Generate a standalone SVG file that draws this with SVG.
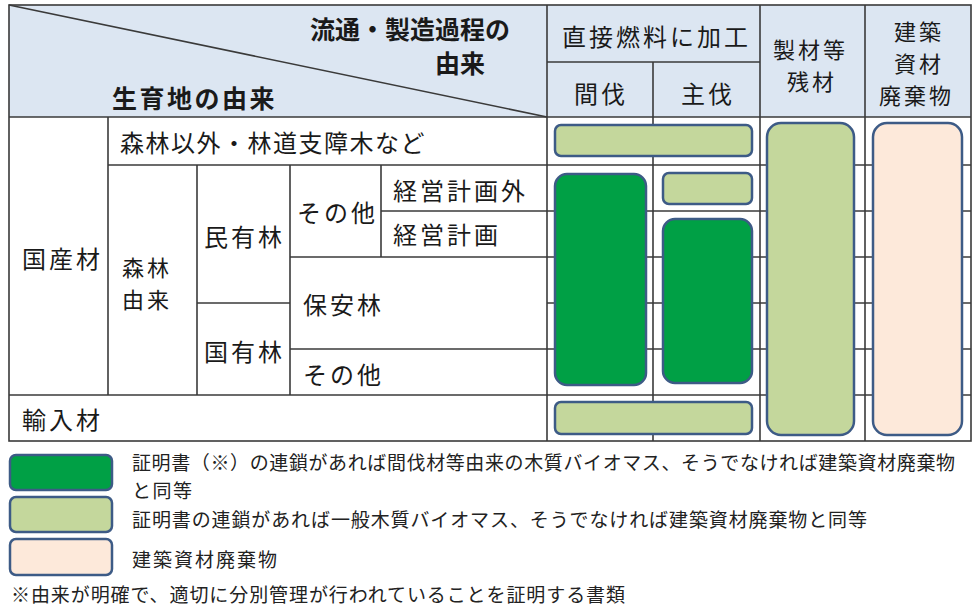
<svg xmlns="http://www.w3.org/2000/svg" width="980" height="616" viewBox="0 0 980 616">
<style>
.t{font-family:"Noto Sans CJK JP","Noto Sans",sans-serif;font-size:24px;fill:#1a1a1a;letter-spacing:3px;dominant-baseline:central}
.b{font-weight:bold;font-size:25px;letter-spacing:0}
.s{font-size:22px}
.l{font-family:"Noto Sans CJK JP","Noto Sans",sans-serif;font-size:19px;fill:#222;dominant-baseline:central}
.g{stroke:#3a3a3a;stroke-width:1.6;fill:none}
.dk{fill:#00a045;stroke:#3d5b86;stroke-width:2.5}
.lt{fill:#c4d79c;stroke:#3d5b86;stroke-width:2.5}
.pc{fill:#fde9da;stroke:#3d5b86;stroke-width:2.5}
</style>
<rect width="980" height="616" fill="#fff"/>
<g id="header-bg">
<rect x="9" y="5" width="962" height="112" fill="#dce6f2"/>
</g>
<g id="grid" class="g">
<rect x="9" y="5" width="962" height="436"/>
<line x1="9" y1="5" x2="547" y2="117"/>
<line x1="9" y1="117" x2="971" y2="117"/>
<line x1="547" y1="5" x2="547" y2="441"/>
<line x1="760" y1="5" x2="760" y2="441"/>
<line x1="865" y1="5" x2="865" y2="441"/>
<line x1="653" y1="62" x2="653" y2="441"/>
<line x1="547" y1="62" x2="760" y2="62"/>
<line x1="108" y1="117" x2="108" y2="395"/>
<line x1="197" y1="165" x2="197" y2="395"/>
<line x1="290" y1="165" x2="290" y2="395"/>
<line x1="381" y1="165" x2="381" y2="257"/>
<line x1="108" y1="165" x2="971" y2="165"/>
<line x1="381" y1="211" x2="971" y2="211"/>
<line x1="290" y1="257" x2="971" y2="257"/>
<line x1="197" y1="303" x2="290" y2="303"/>
<line x1="547" y1="303" x2="971" y2="303"/>
<line x1="290" y1="349" x2="971" y2="349"/>
<line x1="9" y1="395" x2="971" y2="395"/>
</g>
<g id="header-text">
<text class="t b" x="310" y="28">流通・製造過程の</text>
<text class="t b" x="435" y="62">由来</text>
<text class="t b" x="112" y="97" style="letter-spacing:2.5px">生育地の由来</text>
<text class="t" x="562" y="35">直接燃料に加工</text>
<text class="t" x="574" y="92">間伐</text>
<text class="t" x="681" y="92">主伐</text>
<text class="t s" x="773" y="48">製材等</text>
<text class="t s" x="787" y="80">残材</text>
<text class="t s" x="894" y="30">建築</text>
<text class="t s" x="894" y="62">資材</text>
<text class="t s" x="879" y="94">廃棄物</text>
</g>
<g id="row-text">
<text class="t" x="120" y="141" style="letter-spacing:1.5px">森林以外・林道支障木など</text>
<text class="t" x="22" y="257">国産材</text>
<text class="t s" x="122" y="266">森林</text>
<text class="t s" x="122" y="298">由来</text>
<text class="t" x="204" y="235">民有林</text>
<text class="t" x="297" y="211">その他</text>
<text class="t" x="393" y="189">経営計画外</text>
<text class="t" x="393" y="233">経営計画</text>
<text class="t" x="303" y="303">保安林</text>
<text class="t" x="204" y="350">国有林</text>
<text class="t" x="303" y="373">その他</text>
<text class="t" x="22" y="418">輸入材</text>
</g>
<g id="bars">
<rect class="lt" x="555" y="125" width="197" height="31" rx="6"/>
<rect class="dk" x="555" y="174" width="91" height="211" rx="12"/>
<rect class="lt" x="663" y="173" width="89" height="31" rx="6"/>
<rect class="dk" x="663" y="219" width="89" height="164" rx="12"/>
<rect class="lt" x="555" y="402" width="197" height="32" rx="6"/>
<rect class="lt" x="767" y="123" width="87" height="312" rx="14"/>
<rect class="pc" x="873" y="123" width="89" height="312" rx="14"/>
</g>
<g id="legend">
<rect class="dk" x="10" y="455" width="102" height="35" rx="6"/>
<rect class="lt" x="10" y="497" width="102" height="35" rx="6"/>
<rect class="pc" x="10" y="539" width="102" height="36" rx="6"/>
<text class="l" x="132" y="461" textLength="823" lengthAdjust="spacing">証明書（※）の連鎖があれば間伐材等由来の木質バイオマス、そうでなければ建築資材廃棄物</text>
<text class="l" x="132" y="489" textLength="60" lengthAdjust="spacing">と同等</text>
<text class="l" x="132" y="518" textLength="735" lengthAdjust="spacing">証明書の連鎖があれば一般木質バイオマス、そうでなければ建築資材廃棄物と同等</text>
<text class="l" x="132" y="558" textLength="145" lengthAdjust="spacing">建築資材廃棄物</text>
<text class="l" x="11" y="593" textLength="614" lengthAdjust="spacing">※由来が明確で、適切に分別管理が行われていることを証明する書類</text>
</g>
</svg>
